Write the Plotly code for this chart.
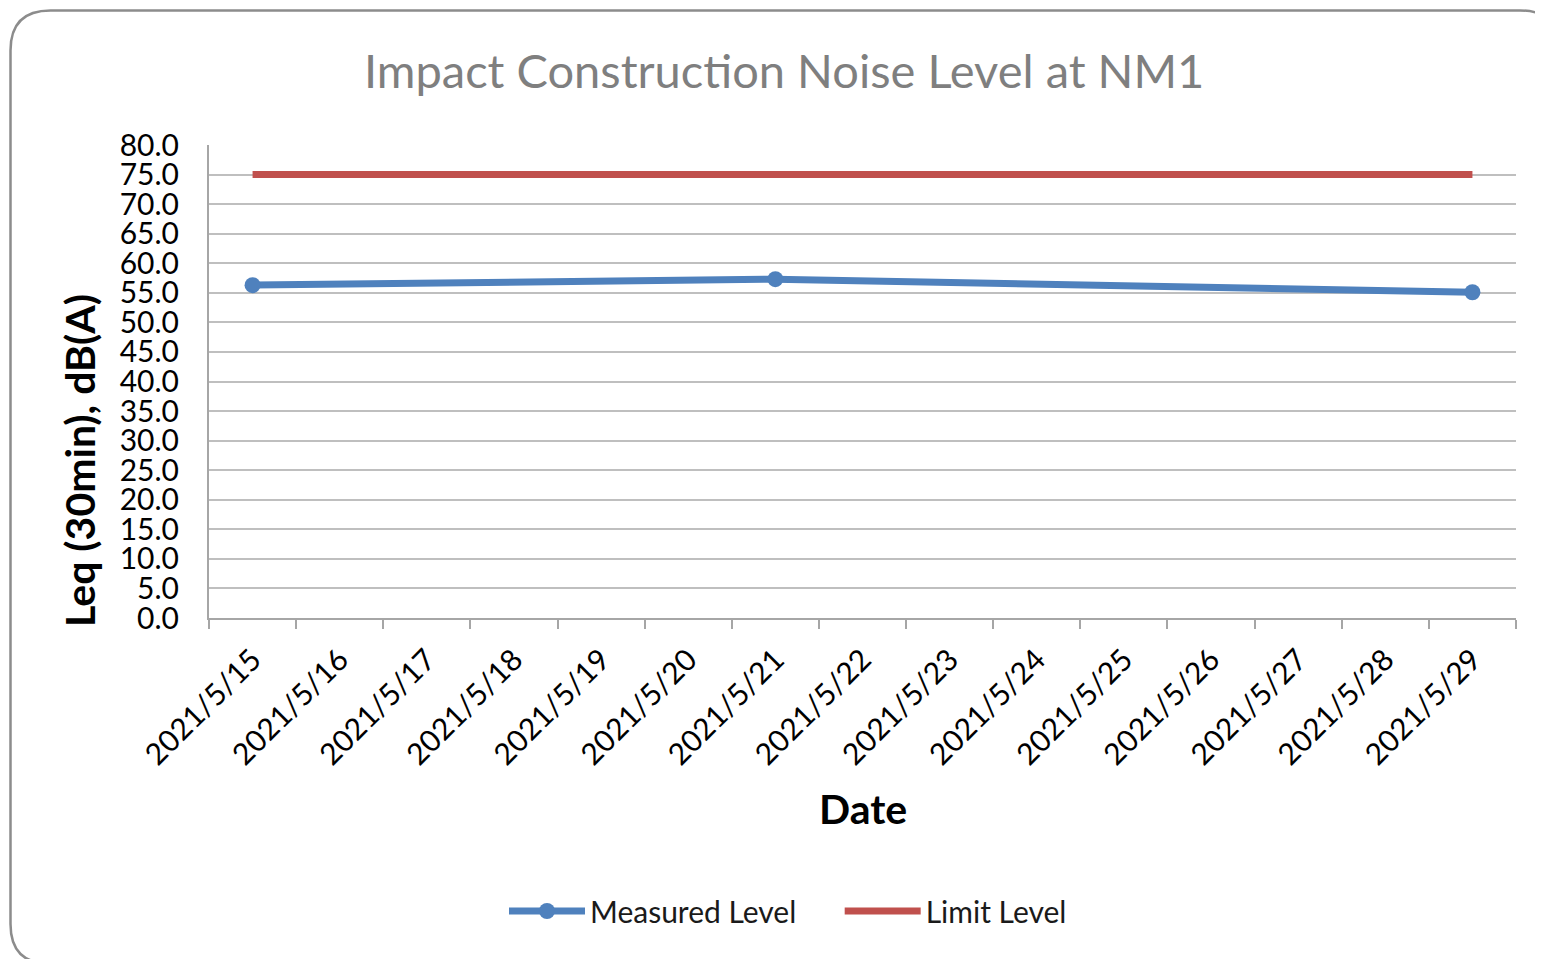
import plotly.graph_objects as go

dates = ["2021/5/15", "2021/5/16", "2021/5/17", "2021/5/18", "2021/5/19",
         "2021/5/20", "2021/5/21", "2021/5/22", "2021/5/23", "2021/5/24",
         "2021/5/25", "2021/5/26", "2021/5/27", "2021/5/28", "2021/5/29"]
measured_dates = ["2021/5/15", "2021/5/21", "2021/5/29"]
measured_values = [56.3, 57.3, 55.1]
limit_values = [75.0] * len(dates)

W, H = 1543, 959
OFF = 8  # page body margin
PL, PR, PT, PB = 209, 1516, 145, 618  # plot area in screenshot pixels
PW, PH = PR - PL, PB - PT
ML, MT = PL - OFF, PT - OFF
MR = W - ML - PW
MB = H - MT - PH

def px(x):
    return (x - PL) / PW

def py(y):
    return (PB - y) / PH

FONT = "Lato"
BLUE = "#4F81BD"
RED = "#C0504D"

fig = go.Figure()
fig.add_trace(go.Scatter(
    x=measured_dates, y=measured_values, name="Measured Level\u00a0\u00a0\u00a0\u00a0\u00a0",
    mode="lines+markers", line=dict(color=BLUE, width=7),
    marker=dict(color=BLUE, size=16),
))
fig.add_trace(go.Scatter(
    x=dates, y=limit_values, name="Limit Level",
    mode="lines", line=dict(color=RED, width=7),
))

# rounded chart border
x0, y0, x1, y1, r = 10.5, 10.5, 1560, 964, 40
rx, ry = r / PW, r / PH
path = (f"M {px(x0)+rx},{py(y0)} L {px(x1)-rx},{py(y0)} "
        f"Q {px(x1)},{py(y0)} {px(x1)},{py(y0)-ry} "
        f"L {px(x1)},{py(y1)+ry} Q {px(x1)},{py(y1)} {px(x1)-rx},{py(y1)} "
        f"L {px(x0)+rx},{py(y1)} Q {px(x0)},{py(y1)} {px(x0)},{py(y1)+ry} "
        f"L {px(x0)},{py(y0)-ry} Q {px(x0)},{py(y0)} {px(x0)+rx},{py(y0)} Z")
fig.add_shape(type="path", path=path, xref="paper", yref="paper",
              line=dict(color="#8C8C8C", width=2.5), layer="below")

fig.add_annotation(text="Impact Construction Noise Level at NM1",
                   x=px(783.5), y=py(70), xref="paper", yref="paper",
                   xanchor="center", yanchor="middle",
                   showarrow=False, font=dict(family=FONT, size=47, color="#7F7F7F"))
fig.add_annotation(text="<b>Leq (30min), dB(A)</b>", textangle=-90,
                   x=px(79), y=py(461), xref="paper", yref="paper",
                   xanchor="center", yanchor="middle",
                   showarrow=False, font=dict(family=FONT, size=41, color="#000000"))
fig.add_annotation(text="<b>Date</b>",
                   x=px(863), y=py(808), xref="paper", yref="paper",
                   xanchor="center", yanchor="middle",
                   showarrow=False, font=dict(family=FONT, size=41, color="#000000"))

fig.update_layout(
    width=W, height=H,
    margin=dict(l=ML, r=MR, t=MT, b=MB),
    paper_bgcolor="white", plot_bgcolor="white",
    font=dict(family=FONT, color="#000000"),
    showlegend=True,
    legend=dict(orientation="h", x=px(788), y=py(911), xanchor="center",
                yanchor="middle", font=dict(family=FONT, size=30, color="#1A1A1A"),
                itemwidth=76, bgcolor="rgba(0,0,0,0)"),
)
fig.update_xaxes(
    type="category", categoryorder="array", categoryarray=dates,
    range=[-0.5, len(dates) - 0.5],
    tickson="boundaries", ticks="outside", ticklen=9, tickwidth=2,
    tickcolor="#A6A6A6", showgrid=False, showline=True, linecolor="#A6A6A6",
    linewidth=2, tickangle=-45, ticklabelstandoff=10,
    tickfont=dict(family=FONT, size=30, color="#000000"),
    zeroline=False,
)
fig.update_yaxes(
    range=[0, 80], dtick=5, tick0=0, tickformat=".1f",
    showgrid=True, gridcolor="#BFBFBF", gridwidth=2,
    showline=True, linecolor="#A6A6A6", linewidth=2, ticks="",
    ticklabelstandoff=22, zeroline=False,
    tickfont=dict(family=FONT, size=30, color="#000000"),
)

fig.write_html("out.html")
